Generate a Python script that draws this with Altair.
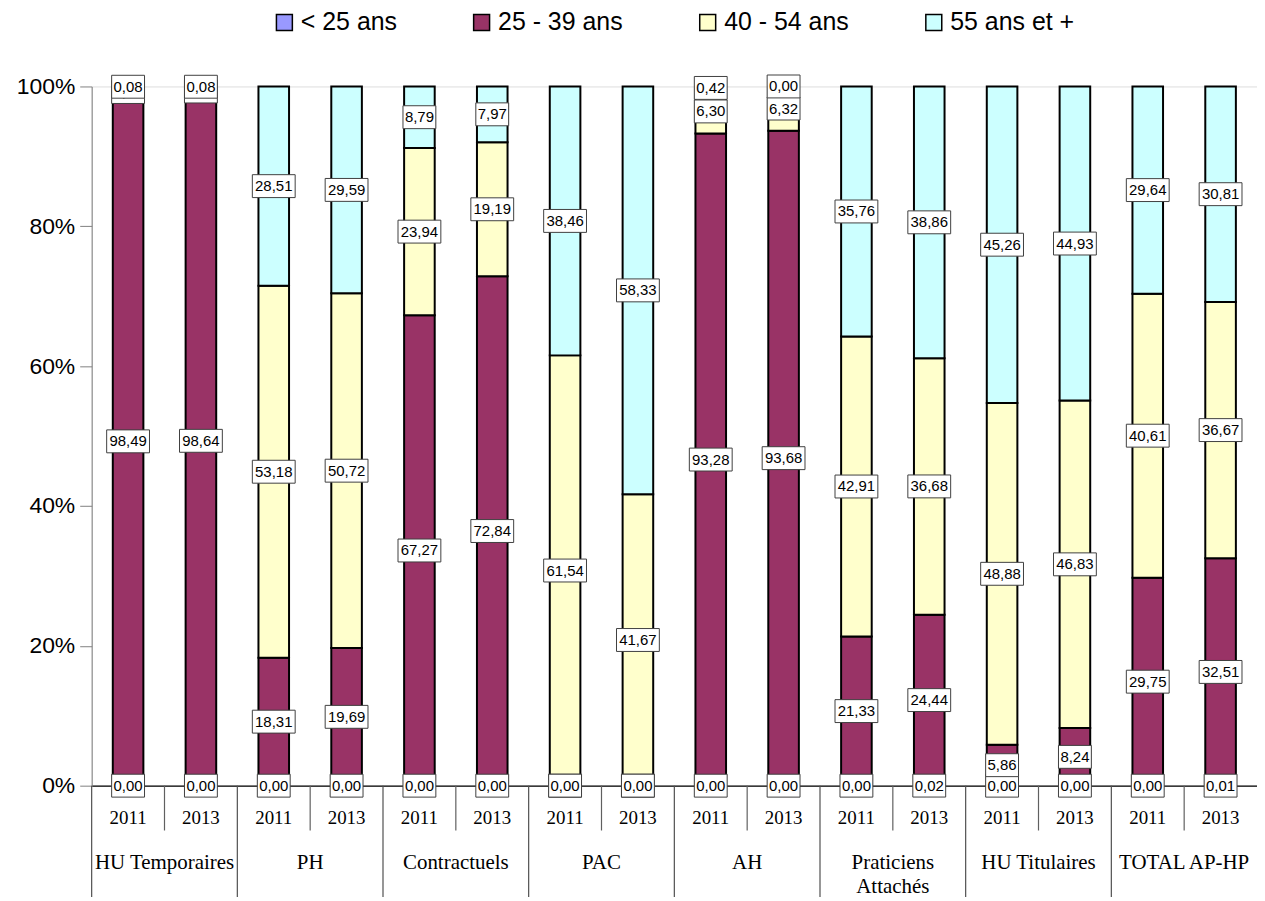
import altair as alt
import pandas as pd

groups = ["HU Temporaires", "PH", "Contractuels", "PAC", "AH",
          "Praticiens\nAttachés", "HU Titulaires", "TOTAL AP-HP"]
years = ["2011", "2013"]
ages = ["< 25 ans", "25 - 39 ans", "40 - 54 ans", "55 ans et +"]
colors = ["#9999FF", "#993366", "#FFFFCC", "#CCFFFF"]

under_25 = [0.00, 0.00, 0.00, 0.00, 0.00, 0.00, 0.00, 0.00,
            0.00, 0.00, 0.00, 0.02, 0.00, 0.00, 0.00, 0.01]
age_25_39 = [98.49, 98.64, 18.31, 19.69, 67.27, 72.84, 0.00, 0.00,
             93.28, 93.68, 21.33, 24.44, 5.86, 8.24, 29.75, 32.51]
age_40_54 = [1.43, 1.28, 53.18, 50.72, 23.94, 19.19, 61.54, 41.67,
             6.30, 6.32, 42.91, 36.68, 48.88, 46.83, 40.61, 36.67]
age_55_plus = [0.08, 0.08, 28.51, 29.59, 8.79, 7.97, 38.46, 58.33,
               0.42, 0.00, 35.76, 38.86, 45.26, 44.93, 29.64, 30.81]

series = [under_25, age_25_39, age_40_54, age_55_plus]

W = 1170
H = 702
SLOT = W / 16.0

rows = []
keys = []
for gi, g in enumerate(groups):
    for yi, yr in enumerate(years):
        idx = gi * 2 + yi
        key = f"{gi}-{yr}"
        keys.append(key)
        for ai, a in enumerate(ages):
            v = series[ai][idx]
            lab = f"{v:.2f}".replace(".", ",")
            rows.append({"key": key, "group": g, "year": yr, "gi": gi, "yi": yi,
                         "age": a, "ord": ai, "value": v, "label": lab,
                         "nch": str(len(lab))})
df = pd.DataFrame(rows)

xenc = alt.X("key:N", sort=keys,
             scale=alt.Scale(paddingInner=0.58, paddingOuter=0.29),
             axis=alt.Axis(labels=False, ticks=False, title=None,
                           domainColor="black", domainWidth=1.2))

base = alt.Chart(df)

bars = base.mark_bar(stroke="black", strokeWidth=2).encode(
    x=xenc,
    y=alt.Y("value:Q", stack="zero",
            scale=alt.Scale(domain=[0, 100], nice=False),
            axis=alt.Axis(values=[0, 20, 40, 60, 80, 100],
                          labelExpr="datum.value + '%'",
                          title=None, grid=False,
                          domainColor="#808080", tickColor="#808080",
                          tickSize=12, labelPadding=5,
                          labelFont="Liberation Sans", labelFontSize=23,
                          labelColor="black")),
    color=alt.Color("age:N", sort=ages,
                    scale=alt.Scale(domain=ages, range=colors),
                    legend=alt.Legend(orient="none", legendX=181, legendY=-77,
                                      direction="horizontal", columns=4,
                                      title=None, symbolType="square",
                                      symbolSize=256, symbolStrokeColor="black",
                                      symbolStrokeWidth=1.5,
                                      labelFont="Liberation Sans",
                                      labelFontSize=25, labelColor="black",
                                      columnPadding=72, labelOffset=4,
                                      labelLimit=300, symbolOpacity=1)),
    order=alt.Order("ord:Q", sort="ascending"),
)

box4 = "M-0.825,-0.575H0.825V0.575H-0.825Z"
box5 = "M-1.075,-0.575H1.075V0.575H-1.075Z"

stacked = base.transform_stack(
    stack="value", groupby=["key"], as_=["v0", "v1"],
    sort=[alt.SortField("ord", order="ascending")]
).transform_calculate(mid="(datum.v0 + datum.v1) / 2")

label_layers = []
for ai in range(len(ages)):
    sub = stacked.transform_filter(f"datum.ord == {ai}")
    box = sub.mark_point(filled=True, fill="white", stroke="#404040",
                         strokeWidth=1, size=1600, opacity=1).encode(
        x=alt.X("key:N", sort=keys),
        y=alt.Y("mid:Q"),
        shape=alt.Shape("nch:N", scale=alt.Scale(domain=["4", "5"], range=[box4, box5]),
                        legend=None),
    )
    txt = sub.mark_text(font="Liberation Sans", fontSize=15, color="black",
                        baseline="middle").encode(
        x=alt.X("key:N", sort=keys),
        y=alt.Y("mid:Q"),
        text="label:N",
    )
    label_layers += [box, txt]

first = base.transform_filter("datum.ord == 0")

short_sep = first.transform_filter("datum.yi == 1").mark_rule(
    color="#606060", strokeWidth=1.2, xOffset=-SLOT / 2).encode(
    x=alt.X("key:N", sort=keys), y=alt.value(H), y2=alt.value(H + 45))

long_sep = first.transform_filter("datum.yi == 0").mark_rule(
    color="#505050", strokeWidth=1.2, xOffset=-SLOT / 2).encode(
    x=alt.X("key:N", sort=keys), y=alt.value(H), y2=alt.value(H + 120))

year_txt = first.mark_text(font="Liberation Serif", fontSize=19, color="black",
                           baseline="middle").encode(
    x=alt.X("key:N", sort=keys), y=alt.value(H + 32), text="year:N")

group_txt = first.transform_filter("datum.yi == 0").mark_text(
    font="Liberation Serif", fontSize=21, color="black", baseline="top",
    dx=SLOT / 2, lineBreak="\n", lineHeight=24).encode(
    x=alt.X("key:N", sort=keys), y=alt.value(H + 67), text="group:N")

chart = alt.layer(bars, *label_layers, short_sep, long_sep, year_txt, group_txt).properties(
    width=W, height=H,
    autosize=alt.AutoSizeParams(type="none"),
    padding={"left": 84, "top": 77, "right": 0, "bottom": 110},
).configure_view(stroke=None).configure(background="white")

chart.save("out.html", embed_options={"renderer": "svg", "actions": False})
